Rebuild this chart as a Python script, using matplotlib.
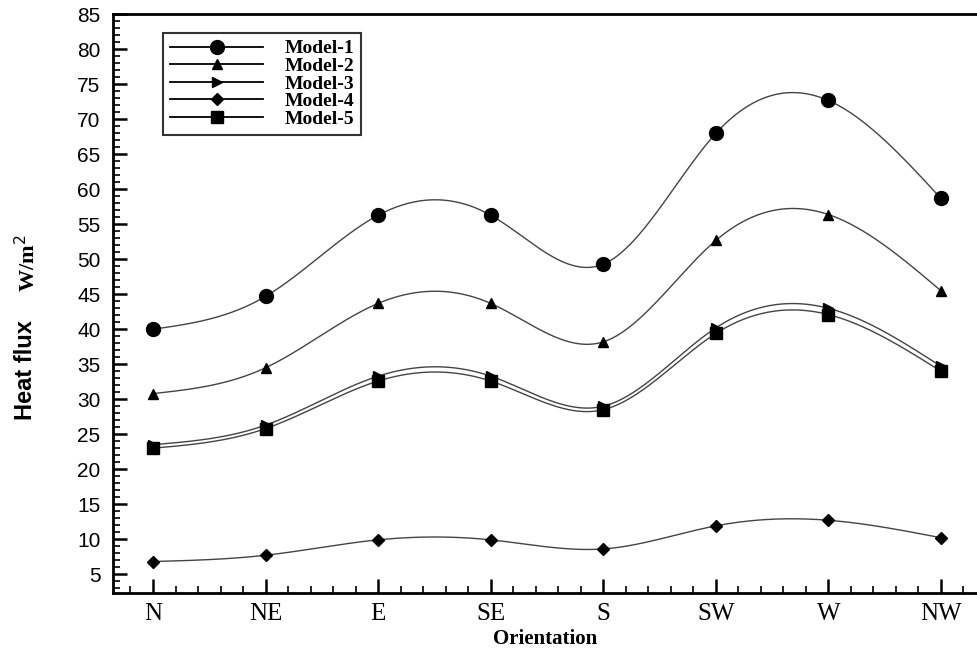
import numpy as np
import matplotlib
matplotlib.use("Agg")
import matplotlib.pyplot as plt
from matplotlib.ticker import MultipleLocator

orientations = ["N", "NE", "E", "SE", "S", "SW", "W", "NW"]
model1 = [40.0, 44.7, 56.3, 56.3, 49.3, 68.0, 72.7, 58.7]
model2 = [30.8, 34.5, 43.7, 43.7, 38.2, 52.7, 56.4, 45.5]
model3 = [23.5, 26.3, 33.3, 33.3, 29.0, 40.2, 43.0, 34.7]
model4 = [6.8, 7.7, 9.9, 9.9, 8.6, 11.9, 12.7, 10.2]
model5 = [23.0, 25.8, 32.6, 32.6, 28.5, 39.4, 42.1, 34.0]


def natural_spline(x, y, xs):
    # plain natural cubic spline, only used to draw the smooth curve
    x = np.asarray(x, float)
    y = np.asarray(y, float)
    n = len(x)
    h = np.diff(x)
    A = np.zeros((n, n))
    b = np.zeros(n)
    A[0, 0] = 1
    A[-1, -1] = 1
    for i in range(1, n - 1):
        A[i, i - 1] = h[i - 1]
        A[i, i] = 2 * (h[i - 1] + h[i])
        A[i, i + 1] = h[i]
        b[i] = 6 * ((y[i + 1] - y[i]) / h[i] - (y[i] - y[i - 1]) / h[i - 1])
    M = np.linalg.solve(A, b)
    idx = np.clip(np.searchsorted(x, xs) - 1, 0, n - 2)
    x0, x1 = x[idx], x[idx + 1]
    hh = x1 - x0
    t0 = x1 - xs
    t1 = xs - x0
    return (M[idx] * t0 ** 3 / (6 * hh) + M[idx + 1] * t1 ** 3 / (6 * hh)
            + (y[idx] / hh - M[idx] * hh / 6) * t0
            + (y[idx + 1] / hh - M[idx + 1] * hh / 6) * t1)


fig = plt.figure(figsize=(9.77, 6.56), dpi=100)
ax = fig.add_axes([0.1157, 0.096, 0.8843, 0.882])

xpos = np.arange(len(orientations))
xs = np.linspace(0, len(orientations) - 1, 400)

series = [
    ("Model-1", model1, "o", 10),
    ("Model-2", model2, "^", 7),
    ("Model-3", model3, ">", 7),
    ("Model-4", model4, "D", 6.5),
    ("Model-5", model5, "s", 8),
]

handles = []
for name, vals, mk, ms in series:
    ax.plot(xs, natural_spline(xpos, vals, xs), color="#444444", lw=1.0)
    ax.plot(xpos, vals, linestyle="none", marker=mk, ms=ms, color="black")
    h, = ax.plot([], [], color="black", lw=1.3, marker=mk, ms=ms, label=name)
    handles.append(h)

ax.set_xlim(-0.355, 7.32)
ax.set_ylim(2.3, 85)
ax.set_xticks(xpos)
ax.set_xticklabels(orientations, family="Liberation Serif", fontsize=18)
ax.xaxis.set_minor_locator(MultipleLocator(0.2))
ax.yaxis.set_minor_locator(MultipleLocator(1))
ax.set_yticks(np.arange(5, 90, 5))
for lab in ax.get_yticklabels():
    lab.set_family("Liberation Sans")
    lab.set_fontsize(15)

ax.tick_params(which="major", direction="in", length=10, width=1.8, top=False, right=False)
ax.tick_params(which="minor", direction="in", length=5, width=1.2, top=False, right=False)
ax.tick_params(axis="y", pad=9)
ax.tick_params(axis="x", pad=7)
ax.spines["right"].set_visible(False)
for s in ["left", "bottom", "top"]:
    ax.spines[s].set_linewidth(2)

ax.set_xlabel("Orientation", family="Liberation Serif", fontweight="bold", fontsize=15, labelpad=3)

fig.text(0.026, 0.436, "Heat flux", rotation=90, ha="center", va="center",
         family="Liberation Sans", fontweight="bold", fontsize=17)
fig.text(0.028, 0.598, "W/m$^2$", rotation=90, ha="center", va="center",
         family="Liberation Serif", fontweight="bold", fontsize=16)

leg = ax.legend(handles=handles, loc="upper left", bbox_to_anchor=(0.058, 0.968),
                prop={"family": "Liberation Serif", "weight": "bold", "size": 14},
                frameon=True, fancybox=False, edgecolor="black", handlelength=4.8,
                labelspacing=0.0, borderpad=0.35, handletextpad=1.1, borderaxespad=0)
leg.get_frame().set_linewidth(1.5)

fig.savefig("out.png", dpi=100)
